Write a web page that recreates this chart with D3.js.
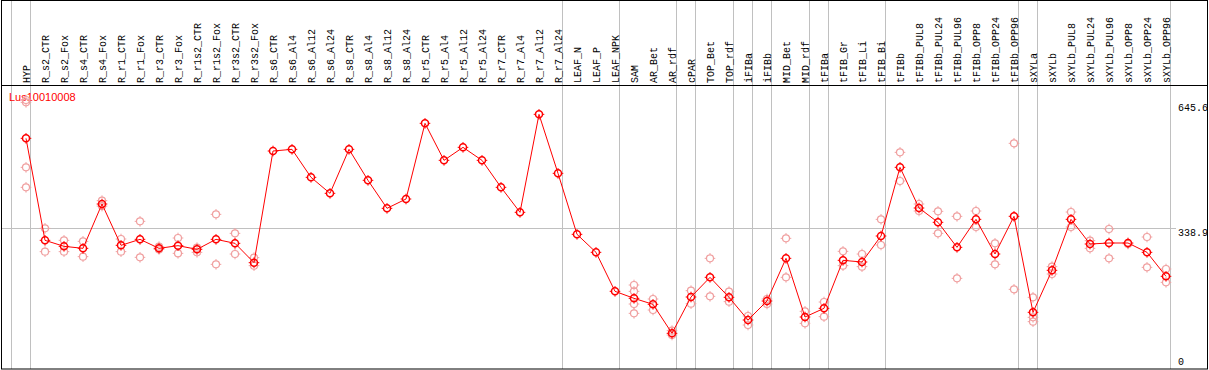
<!DOCTYPE html>
<html><head><meta charset="utf-8">
<script src="https://cdn.jsdelivr.net/npm/d3@7"></script>
<style>body{margin:0;background:#fff}svg{display:block}</style>
</head><body>
<svg id="c" width="1209" height="370"></svg>
<script>
const geneName = "Lus10010008";
const categories = ["HYP","R_s2_CTR","R_s2_Fox","R_s4_CTR","R_s4_Fox","R_r1_CTR","R_r1_Fox","R_r3_CTR","R_r3_Fox","R_r1s2_CTR","R_r1s2_Fox","R_r3s2_CTR","R_r3s2_Fox","R_s6_CTR","R_s6_Al4","R_s6_Al12","R_s6_Al24","R_s8_CTR","R_s8_Al4","R_s8_Al12","R_s8_Al24","R_r5_CTR","R_r5_Al4","R_r5_Al12","R_r5_Al24","R_r7_CTR","R_r7_Al4","R_r7_Al12","R_r7_Al24","LEAF_N","LEAF_P","LEAF_NPK","SAM","AR_Bet","AR_rdf","cPAR","TOP_Bet","TOP_rdf","iFIBa","iFIBb","MID_Bet","MID_rdf","tFIBa","tFIB_Gr","tFIB_Li","tFIB_Bi","tFIBb","tFIBb_PUL8","tFIBb_PUL24","tFIBb_PUL96","tFIBb_OPP8","tFIBb_OPP24","tFIBb_OPP96","sXYLa","sXYLb","sXYLb_PUL8","sXYLb_PUL24","sXYLb_PUL96","sXYLb_OPP8","sXYLb_OPP24","sXYLb_OPP96"];
const means = [553.6,308.8,294.4,289.6,396,296.8,311.2,289.6,296,287.2,311.2,301.6,255.2,523.2,527.2,460,421.6,527.2,452.8,385.6,408,589.6,500.8,532,500.8,436,376,611.2,469.6,323.2,280,186.4,169.6,155.2,85.6,172.8,220,172,117.6,163.2,265.6,124.8,145.6,260.8,256.8,319.2,484,386.4,352,292,359.2,276,366.4,136,236.8,359.2,300,302.4,302.4,280,222.4];
const replicates = [[645.6,640,484,436],[337.6,281.6],[308.8,281.6],[306.4,269.6],[404,391],[312,281.6],[354.4,268],[293.6,287],[314.4,277.6],[291.2,280],[371.2,251.2],[325.6,276],[267.2,248],[],[],[],[],[],[],[],[],[],[],[],[],[],[],[],[],[],[],[],[201.6,186.4,156,133.6],[168,141.6],[92,81.6],[188,156.8],[265.6,174.4],[185.6,161.6],[127.2,105.6],[168,156],[313.6,220],[138.4,109.6],[160.8,125.6],[282.4,248],[276,245.6],[359.2,297.6],[520,451.2],[396,379.2],[378.4,325.6],[366.4,217.6],[379.2,340.8],[301.6,251.2],[541.6,191.2],[172,124,113.6],[245.6,228],[376.8,340.8],[308,289.6],[336,265.6],[300],[316.8,244],[240,208]];
const separatorsAfter = ["HYP","R_r7_Al24","LEAF_NPK","AR_rdf","cPAR","TOP_rdf","iFIBa","iFIBb","MID_rdf","tFIBa","tFIB_Bi","tFIBb_OPP96","sXYLa","sXYLb_OPP96"];
const tickValues = [645.6, 338.9, 0];
const gridValues = [338.9];

const svg = d3.select("#c");
const x = d3.scaleBand().domain(categories).range([11.5, 11.5 + 19*categories.length]).padding(0);
const px = c => x(c) + 14.5;
const y = d3.scaleLinear().domain([0, 645.6]).range([369, 100]);
const grey = "#c0c0c0";
const mono = "Liberation Mono, DejaVu Sans Mono, monospace";

// separators
const sepX = [x(categories[0])].concat(separatorsAfter.map(c => x(c) + x.bandwidth()));
svg.append("g").selectAll("line").data(sepX).join("line")
  .attr("x1", d => d).attr("x2", d => d).attr("y1", 0).attr("y2", 369)
  .attr("stroke", grey).attr("stroke-width", 1);
// gridline
svg.append("g").selectAll("line").data(gridValues).join("line")
  .attr("x1", 1).attr("x2", 1176).attr("y1", d => Math.round(y(d)) + 0.5).attr("y2", d => Math.round(y(d)) + 0.5)
  .attr("stroke", grey).attr("stroke-width", 1);

// frame
svg.append("rect").attr("x", 1.5).attr("y", 0.5).attr("width", 1206).attr("height", 368.5)
  .attr("fill", "none").attr("stroke", "#000").attr("stroke-width", 1);
svg.append("line").attr("x1", 1).attr("x2", 1208).attr("y1", 85.5).attr("y2", 85.5).attr("stroke", "#000");

// column labels
svg.append("g").selectAll("text").data(categories).join("text")
  .attr("transform", d => `translate(${px(d) + 3.5},83) rotate(-90)`)
  .attr("font-family", mono).attr("font-size", 10)
  .attr("fill", "#000").text(d => d);

// tick labels
const tl = svg.append("g");
tickValues.forEach((v, i) => {
  tl.append("text").attr("x", 1178)
    .attr("y", v === 0 ? y(v) - 4 : y(v) + (i === 0 ? 11 : 8))
    .attr("font-family", mono).attr("font-size", 10)
    .attr("fill", "#000").text(String(v));
});
svg.append("line").attr("x1", 1207.5).attr("x2", 1207.5).attr("y1", 0).attr("y2", 369).attr("stroke", "#000");

// gene name
svg.append("text").attr("x", 9).attr("y", 101).attr("font-family", "Liberation Sans, Arial, sans-serif")
  .attr("font-size", 11).attr("fill", "#ff0000").text(geneName);

function marker(g, cx, cy, color, w) {
  const r = 3.5;
  g.append("circle").attr("cx", cx).attr("cy", cy).attr("r", r).attr("fill", "none").attr("stroke", color).attr("stroke-width", w);
  [[0,-1],[0,1],[-1,0],[1,0]].forEach(([dx,dy]) => {
    g.append("line").attr("x1", cx + dx*r).attr("y1", cy + dy*r).attr("x2", cx + dx*(r+1.8)).attr("y2", cy + dy*(r+1.8))
      .attr("stroke", color).attr("stroke-width", 1);
  });
}

const rg = svg.append("g");
categories.forEach((c, i) => {
  replicates[i].forEach(v => marker(rg, px(c), y(v), "#f0a0a0", 1.2));
});

const line = d3.line().x((d, i) => px(categories[i])).y(d => y(d));
svg.append("path").datum(means).attr("d", line).attr("fill", "none").attr("stroke", "#ff0000").attr("stroke-width", 1);

const mg = svg.append("g");
categories.forEach((c, i) => marker(mg, px(c), y(means[i]), "#ff0000", 1.5));
</script>
</body></html>
